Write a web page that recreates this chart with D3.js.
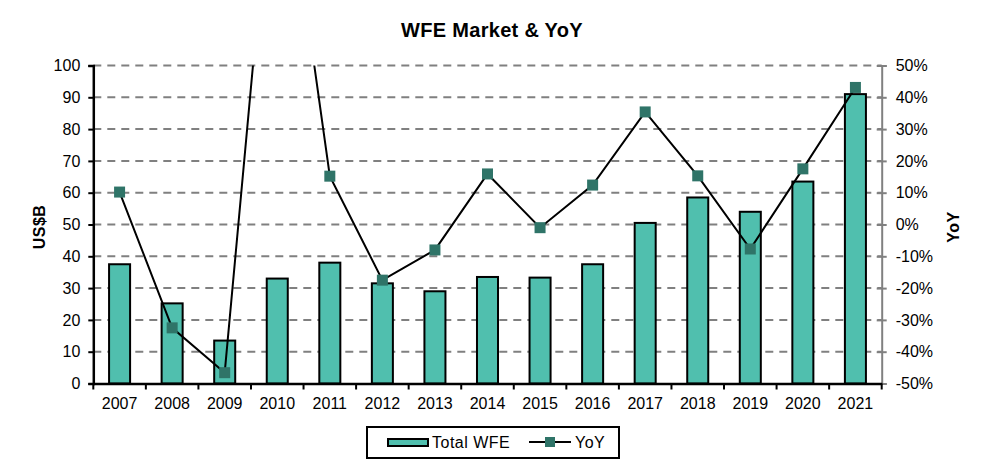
<!DOCTYPE html>
<html><head><meta charset="utf-8">
<script src="https://cdn.jsdelivr.net/npm/d3@7"></script>
<style>body{margin:0;background:#fff;} text{font-family:"Liberation Sans",Arial,sans-serif;}</style>
</head><body><svg id="c" width="987" height="470"></svg>
<script>
const years = ["2007","2008","2009","2010","2011","2012","2013","2014","2015","2016","2017","2018","2019","2020","2021"];
const wfe = [37.5,25.2,13.5,33,38,31.5,29,33.5,33.3,37.5,50.5,58.5,54,63.5,91];
const yoy = [10.2,-32.5,-46.6,133,15.2,-17.5,-8,15.9,-1,12.4,35.4,15.3,-7.7,17.5,43.1];
const leftTicks = [0,10,20,30,40,50,60,70,80,90,100];
const rightTicks = [-50,-40,-30,-20,-10,0,10,20,30,40,50];

const svg = d3.select("#c");
const L=93.3, R=881.7, T=65.5, B=383.5;
const FS = 16;
const x = d3.scaleBand().domain(years).range([L,R]).paddingInner(0.6).paddingOuter(0.3);
const xb = d3.scaleBand().domain(years).range([L,R]);
const y = d3.scaleLinear().domain([0,100]).range([B,T]);
const y2 = d3.scaleLinear().domain([-50,50]).range([B,T]);

// title
svg.append("text").attr("x",492).attr("y",37).attr("text-anchor","middle")
  .attr("font-size",20).attr("font-weight","bold").attr("letter-spacing","0.3").text("WFE Market & YoY");

// gridlines
svg.append("g").selectAll("line").data(leftTicks.slice(1)).join("line")
  .attr("x1",L).attr("x2",R).attr("y1",d=>y(d)).attr("y2",d=>y(d))
  .attr("stroke","#808080").attr("stroke-width",2).attr("stroke-dasharray","8,6");

// bars
svg.append("g").selectAll("rect").data(years).join("rect")
  .attr("x",d=>x(d)).attr("width",x.bandwidth())
  .attr("y",(d,i)=>y(wfe[i])).attr("height",(d,i)=>B-y(wfe[i]))
  .attr("fill","#50BFAE").attr("stroke","#000").attr("stroke-width",2);

// clip
svg.append("clipPath").attr("id","clip").append("rect").attr("x",L).attr("y",T).attr("width",R-L).attr("height",B-T);
const line = d3.line().x((d,i)=>xb(years[i])+xb.bandwidth()/2).y(d=>y2(d));
svg.append("path").datum(yoy).attr("d",line).attr("fill","none").attr("stroke","#000").attr("stroke-width",2).attr("clip-path","url(#clip)");
svg.append("g").attr("clip-path","url(#clip)").selectAll("rect").data(yoy).join("rect")
  .attr("x",(d,i)=>xb(years[i])+xb.bandwidth()/2-5.5).attr("y",d=>y2(d)-5.5)
  .attr("width",11).attr("height",11).attr("fill","#2F7468");

// left axis
const ga = svg.append("g").attr("transform",`translate(${L},0)`)
  .call(d3.axisLeft(y).tickValues(leftTicks).tickSize(5).tickPadding(8));
ga.select(".domain").attr("stroke","#000").attr("stroke-width",2.5);
ga.selectAll(".tick line").attr("stroke","#000").attr("stroke-width",2);
ga.selectAll("text").attr("font-size",FS).attr("fill","#000").attr("font-family","Liberation Sans, Arial, sans-serif");

// right axis
const gr = svg.append("g").attr("transform",`translate(${R},0)`)
  .call(d3.axisRight(y2).tickValues(rightTicks).tickSize(5).tickPadding(9).tickFormat(d=>d+"%"));
gr.select(".domain").attr("stroke","#808080").attr("stroke-width",2);
gr.selectAll(".tick line").attr("stroke","#808080").attr("stroke-width",2).attr("x1",-5);
gr.selectAll("text").attr("font-size",FS).attr("fill","#000").attr("font-family","Liberation Sans, Arial, sans-serif");

// bottom axis
const gb = svg.append("g").attr("transform",`translate(0,${B})`)
  .call(d3.axisBottom(xb).tickSize(0).tickPadding(14));
gb.select(".domain").attr("stroke","#000").attr("stroke-width",2.5);
gb.selectAll("text").attr("font-size",FS).attr("fill","#000").attr("font-family","Liberation Sans, Arial, sans-serif");
svg.append("g").selectAll("line").data(years.concat(["end"])).join("line")
  .attr("x1",(d,i)=>L+i*xb.step()).attr("x2",(d,i)=>L+i*xb.step())
  .attr("y1",B).attr("y2",B+6).attr("stroke","#000").attr("stroke-width",2);

// axis titles
svg.append("text").attr("transform","translate(44.5,227) rotate(-90)").attr("text-anchor","middle")
  .attr("font-size",16).attr("font-weight","bold").attr("letter-spacing","0.5").text("US$B");
svg.append("text").attr("transform","translate(959,227) rotate(-90)").attr("text-anchor","middle")
  .attr("font-size",16).attr("font-weight","bold").attr("letter-spacing","0.5").text("YoY");

// legend
const lg = svg.append("g");
lg.append("rect").attr("x",367).attr("y",427).attr("width",252).attr("height",31).attr("fill","#fff").attr("stroke","#000").attr("stroke-width",2);
lg.append("rect").attr("x",388).attr("y",439).attr("width",40).attr("height",7).attr("fill","#50BFAE").attr("stroke","#000").attr("stroke-width",2);
lg.append("text").attr("x",432).attr("y",447.5).attr("font-size",16).attr("letter-spacing","0.5").text("Total WFE");
lg.append("line").attr("x1",529).attr("x2",571).attr("y1",442).attr("y2",442).attr("stroke","#000").attr("stroke-width",2);
lg.append("rect").attr("x",545).attr("y",437).attr("width",10).attr("height",10).attr("fill","#2F7468");
lg.append("text").attr("x",575).attr("y",447.5).attr("font-size",16).attr("letter-spacing","0.5").text("YoY");
</script></body></html>
